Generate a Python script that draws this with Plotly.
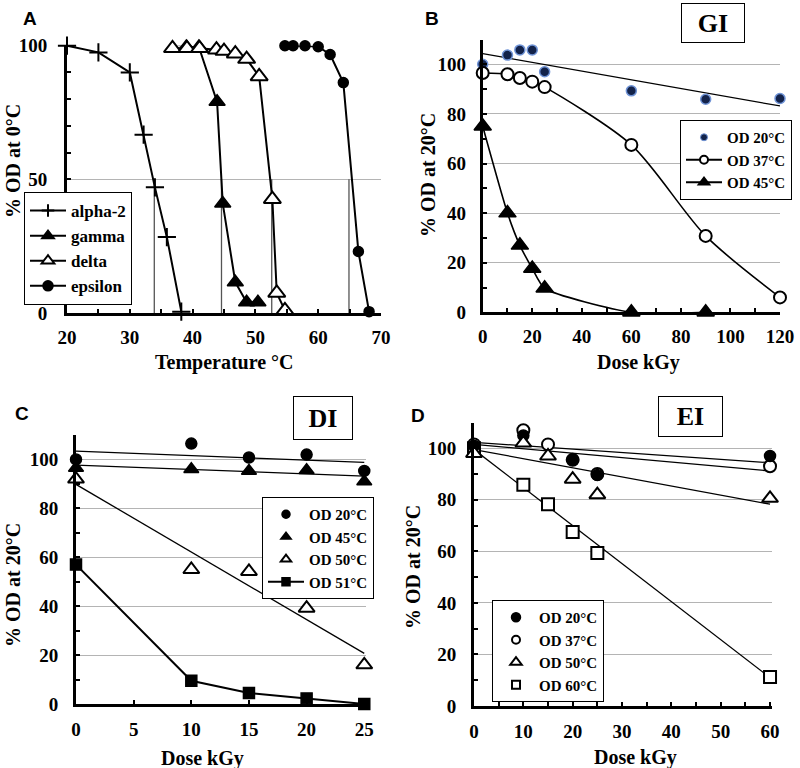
import plotly.graph_objects as go

# ---------------- Panel A data ----------------
a_alpha_x = [20, 25, 30, 32.2, 34, 35.9, 38.2]
a_alpha_y = [100, 97.5, 90, 66.7, 47, 28.4, 0.5]
a_gamma_x = [37, 39, 41, 43.9, 44.8, 46.8, 48.6, 50.4]
a_gamma_y = [100.8, 99.5, 99.5, 79, 41, 11.5, 4, 4]
a_delta_x = [36.8, 39.1, 41.1, 43.8, 45, 46.8, 48.6, 50.6, 52.7, 53.4, 54.7]
a_delta_y = [99, 99, 99, 98.5, 98, 97, 95, 88.5, 42.6, 7.5, 1]
a_eps_x = [54.7, 56, 57.9, 60, 61.9, 64, 66.4, 68.1]
a_eps_y = [100, 100, 100, 99.6, 96.7, 86.2, 23, 0.5]
a_tm = [33.9, 44.6, 52.6, 64.9]

# ---------------- Panel B data ----------------
b_dose = [0, 10, 15, 20, 25, 60, 90, 120]
b_od20 = [100, 103.7, 105.8, 105.8, 97, 89.3, 85.9, 86.2]
b_od37 = [96.5, 96, 94.5, 93, 90.8, 67.5, 30.8, 6]
b_dose45 = [0, 10, 15, 20, 25, 60, 90]
b_od45 = [75, 40, 27, 17.7, 9.7, 0, 0]
b_fit_x = [0, 120]
b_fit20 = [104.3, 83.2]

# ---------------- Panel C data ----------------
c_dose = [0, 10, 15, 20, 25]
c_od20 = [100, 106.5, 100.8, 102, 95.3]
c_od45 = [96.5, 96, 95.3, 95.6, 91]
c_od50 = [92, 55, 54.2, 39.2, 16]
c_od51 = [57, 9.5, 4.5, 2.3, 0]
c_fit_x = [0, 25]
c_fit20 = [103.4, 98.8]
c_fit45 = [97.7, 93.2]
c_fit50 = [89.8, 20.7]

# ---------------- Panel D data ----------------
d_dose = [0, 10, 15, 20, 25, 60]
d_od20 = [101, 105, None, 95.5, 89.6, 97]
d_od37 = [101.5, 107, 101.5, 95.5, 90, 93]
d_od50 = [98, 102, 97, 88, 82, 80.6]
d_od60 = [100, 85.8, 78.3, 67.5, 59.4, 11.3]
d_fit_x = [0, 60]
d_fit20 = [102.3, 94.4]
d_fit37 = [101.5, 91.2]
d_fit50 = [99.5, 78.3]
d_fit60 = [99.5, 11]

SERIF = "Liberation Serif"
SANS = "Liberation Sans"

fig = go.Figure()


def mk(symbol, size, fill='black', lw=1.5, lc='black'):
    return dict(symbol=symbol, size=size, color=fill, line=dict(color=lc, width=lw))


def data(x, y, mode, marker, xa, ya, line=None):
    kw = dict(x=x, y=y, mode=mode, marker=marker, showlegend=False, xaxis=xa, yaxis=ya,
              cliponaxis=False)
    if line is not None:
        kw['line'] = line
    fig.add_trace(go.Scatter(**kw))


def proxy(name, mode, marker, leg, line=None):
    kw = dict(x=[None], y=[None], mode=mode, marker=marker, name=name, legend=leg,
              xaxis='x', yaxis='y')
    if line is not None:
        kw['line'] = line
    fig.add_trace(go.Scatter(**kw))


L2 = dict(color='black', width=2)
# ---- A ----
drop_x, drop_y = [], []
for t in a_tm:
    drop_x += [t, t, None]
    drop_y += [50, 0, None]
fig.add_trace(go.Scatter(x=drop_x, y=drop_y, mode='lines', line=dict(color='#555555', width=1.3),
                         showlegend=False, xaxis='x', yaxis='y', hoverinfo='skip'))
data(a_alpha_x, a_alpha_y, 'lines+markers', mk('cross-thin', 13, lw=2), 'x', 'y', L2)
data(a_gamma_x, a_gamma_y, 'lines+markers', mk('triangle-up', 14), 'x', 'y', L2)
data(a_delta_x, a_delta_y, 'lines+markers', mk('triangle-up', 15, fill='white', lw=2), 'x', 'y', L2)
data(a_eps_x, a_eps_y, 'lines+markers', mk('circle', 10), 'x', 'y', L2)
proxy('alpha-2', 'lines+markers', mk('cross-thin', 9, lw=2), 'legend', L2)
proxy('gamma', 'lines+markers', mk('triangle-up', 11), 'legend', L2)
proxy('delta', 'lines+markers', mk('triangle-up', 11, fill='white', lw=2), 'legend', L2)
proxy('epsilon', 'lines+markers', mk('circle', 10), 'legend', L2)

# ---- B ----
data(b_fit_x, b_fit20, 'lines', None, 'x2', 'y2', dict(color='black', width=1.3))
data(b_dose, b_od20, 'markers', mk('circle', 10, fill='#13234a', lw=1.5, lc='#6f93d6'), 'x2', 'y2')
data(b_dose, b_od37, 'lines+markers', mk('circle', 12, fill='white', lw=2), 'x2', 'y2',
     dict(color='black', width=1.6, shape='spline', smoothing=0.8))
data(b_dose45, b_od45, 'lines+markers', mk('triangle-up', 15), 'x2', 'y2',
     dict(color='black', width=1.6, shape='spline', smoothing=0.6))
proxy('OD 20°C', 'markers', mk('circle', 7, fill='#13234a', lw=1, lc='#6f93d6'), 'legend2')
proxy('OD 37°C', 'lines+markers', mk('circle', 8, fill='white', lw=2), 'legend2', L2)
proxy('OD 45°C', 'lines+markers', mk('triangle-up', 10), 'legend2', L2)

# ---- C ----
for fy in (c_fit20, c_fit45, c_fit50):
    data(c_fit_x, fy, 'lines', None, 'x3', 'y3', dict(color='black', width=1.3))
data(c_dose, c_od20, 'markers', mk('circle', 11), 'x3', 'y3')
data(c_dose, c_od45, 'markers', mk('triangle-up', 13), 'x3', 'y3')
data(c_dose, c_od50, 'markers', mk('triangle-up', 14, fill='white', lw=2), 'x3', 'y3')
data(c_dose, c_od51, 'lines+markers', mk('square', 11), 'x3', 'y3', L2)
proxy('OD 20°C', 'markers', mk('circle', 8), 'legend3')
proxy('OD 45°C', 'markers', mk('triangle-up', 9), 'legend3')
proxy('OD 50°C', 'markers', mk('triangle-up', 9, fill='white', lw=2), 'legend3')
proxy('OD 51°C', 'lines+markers', mk('square', 8), 'legend3', L2)

# ---- D ----
for fy in (d_fit20, d_fit37, d_fit50, d_fit60):
    data(d_fit_x, fy, 'lines', None, 'x4', 'y4', dict(color='black', width=1.3))
data(d_dose, d_od60, 'markers', mk('square', 12, fill='white', lw=2), 'x4', 'y4')
data(d_dose, d_od37, 'markers', mk('circle', 12, fill='white', lw=2), 'x4', 'y4')
data(d_dose, d_od20, 'markers', mk('circle', 11), 'x4', 'y4')
data(d_dose, d_od50, 'markers', mk('triangle-up', 14, fill='white', lw=2), 'x4', 'y4')
proxy('OD 20°C', 'markers', mk('circle', 9), 'legend4')
proxy('OD 37°C', 'markers', mk('circle', 8, fill='white', lw=2), 'legend4')
proxy('OD 50°C', 'markers', mk('triangle-up', 10, fill='white', lw=2), 'legend4')
proxy('OD 60°C', 'markers', mk('square', 8, fill='white', lw=2), 'legend4')

tickfont = dict(family=SERIF, size=19, color='black', weight='bold')


def axis(domain, rng, dtick, minor_dtick, grid, anchor, tick0=0, standoff=6):
    return dict(domain=domain, range=rng, anchor=anchor, showline=True, linecolor='black', linewidth=3,
                ticks='inside', ticklen=4, tickwidth=2, tickcolor='black', tick0=tick0, dtick=dtick,
                tickfont=tickfont, zeroline=False, showgrid=grid, gridcolor='#b4b4b4', gridwidth=1,
                ticklabelstandoff=standoff, fixedrange=True, automargin=False,
                minor=dict(dtick=minor_dtick, ticks='inside', ticklen=4, tickwidth=2, tickcolor='black',
                           showgrid=False))


def legend(x, y, size):
    return dict(x=x, y=y, xref='paper', yref='paper', xanchor='left', yanchor='top',
                bgcolor='white', bordercolor='black', borderwidth=1,
                font=dict(family=SERIF, size=size, color='black', weight='bold'),
                itemwidth=36, tracegroupgap=0, itemsizing='trace')


def ann(text, x, y, size, family=SERIF, angle=0, **kw):
    return dict(text=text, x=x / 800, y=1 - y / 768, xref='paper', yref='paper', showarrow=False,
                textangle=angle, xanchor='center', yanchor='middle',
                font=dict(family=family, size=size, color='black', weight='bold'), **kw)


annotations = [
    ann('A', 30, 18, 19, SANS), ann('B', 432, 18, 19, SANS),
    ann('C', 22, 413, 19, SANS), ann('D', 418, 415, 19, SANS),
    ann('Temperature °C', 224, 362, 20), ann('% OD at 0°C', 13, 161, 20, angle=-90),
    ann('Dose kGy', 638, 362, 20), ann('% OD at 20°C', 428, 175, 20, angle=-90),
    ann('Dose kGy', 202, 758, 20), ann('% OD at 20°C', 13, 585, 20, angle=-90),
    ann('Dose kGy', 635, 757, 20), ann('% OD at 20°C', 413, 567, 20, angle=-90),
    ann('GI', 712.5, 23, 26, bordercolor='black', borderwidth=1, width=60, height=36, bgcolor='white'),
    ann('DI', 322.5, 417.5, 26, bordercolor='black', borderwidth=1, width=56, height=40, bgcolor='white'),
    ann('EI', 690, 416, 26, bordercolor='black', borderwidth=1, width=61, height=37, bgcolor='white'),
]

fig.update_layout(
    template='none',
    width=800, height=768, margin=dict(l=0, r=0, t=0, b=0, pad=0, autoexpand=False),
    paper_bgcolor='white', plot_bgcolor='white', showlegend=True,
    xaxis=axis([67 / 800, 381 / 800], [20, 70], 10, 5, False, 'y', tick0=20, standoff=5),
    yaxis=axis([1 - 313 / 768, 1 - 45.7 / 768], [0, 100], 50, 10, True, 'x', standoff=13),
    xaxis2=axis([482.7 / 800, 780 / 800], [0, 120], 20, 10, False, 'y2', standoff=5),
    yaxis2=axis([1 - 312.3 / 768, 1 - 39.5 / 768], [0, 110], 20, 10, True, 'x2', standoff=10),
    xaxis3=axis([76 / 800, 366 / 800], [0, 25.15], 5, 5, False, 'y3', standoff=6),
    yaxis3=axis([1 - 704 / 768, 1 - 435 / 768], [0, 110], 20, 10, True, 'x3', standoff=11),
    xaxis4=axis([474 / 800, 772 / 800], [0, 60.4], 10, 5, False, 'y4', standoff=6),
    yaxis4=axis([1 - 706 / 768, 1 - 422.5 / 768], [0, 110], 20, 10, True, 'x4', standoff=11),
    legend=legend(24 / 800, 1 - 192 / 768, 17),
    legend2=legend(680 / 800, 1 - 120 / 768, 15),
    legend3=legend(262 / 800, 1 - 497 / 768, 15),
    legend4=legend(492 / 800, 1 - 600 / 768, 15),
    annotations=annotations,
)

fig.write_html("out.html", config={'displayModeBar': False},
               post_script="document.body.style.margin='0px';document.body.style.overflow='hidden';")
